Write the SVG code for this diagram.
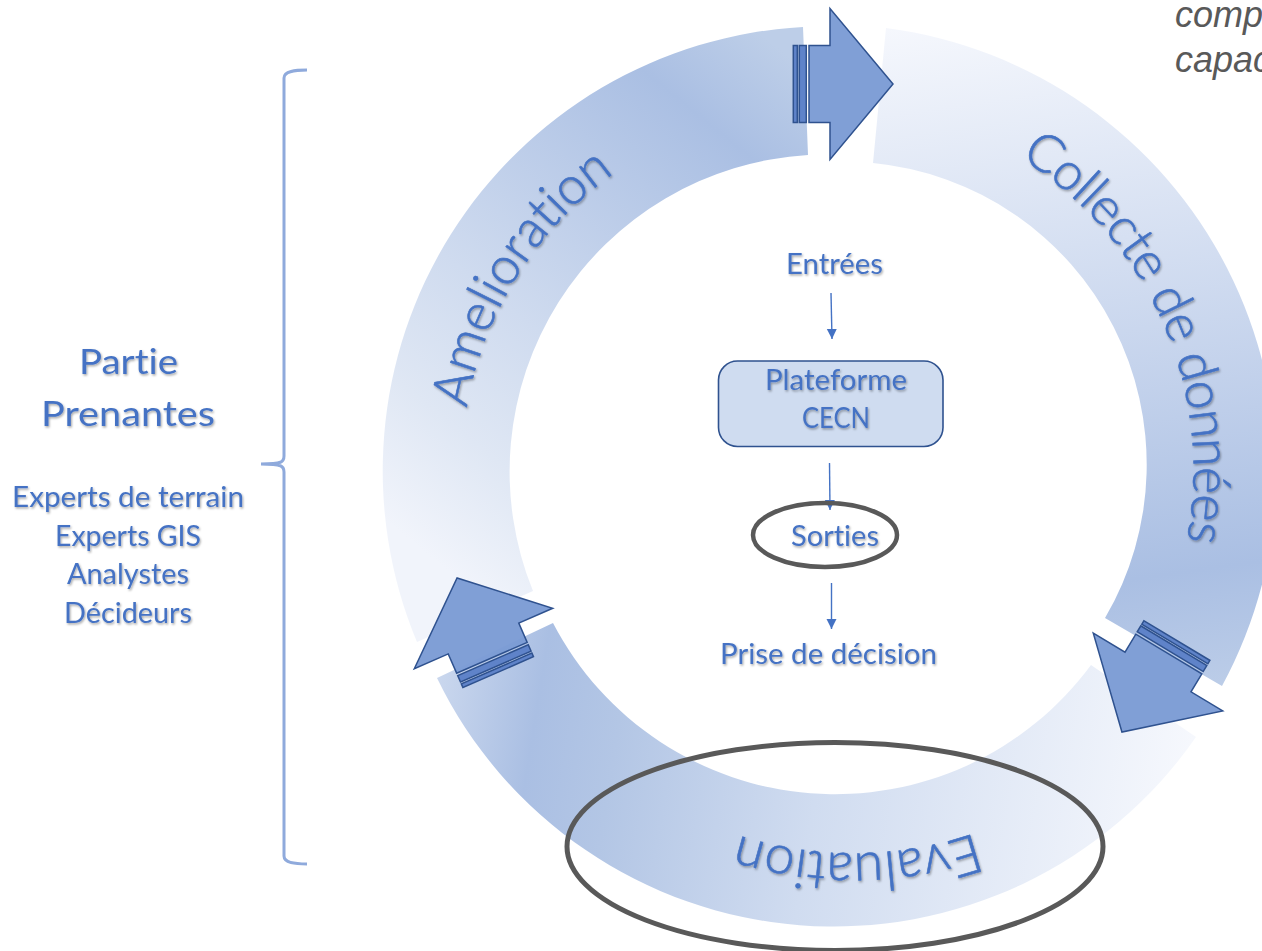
<svg xmlns="http://www.w3.org/2000/svg" xmlns:xlink="http://www.w3.org/1999/xlink" width="1262" height="951" viewBox="0 0 1262 951">
  <style>
    text { font-family: Lato, "Liberation Sans", sans-serif; fill: #4472c4; filter: url(#sh); font-variant-ligatures: none; }
    .mid { font-size: 28px; }
    .big { font-size: 35px; }
    .arc { font-size: 52px; font-weight: 300; stroke: #4472c4; stroke-width: .6; }
    .note { font-family: "Liberation Sans", Arial, sans-serif; font-style: italic; font-size: 36px; fill: #595959; filter: none; }
    .arrowBody { fill: #7b9bd4; fill-opacity: .96; stroke: #2f528f; stroke-width: 1.5; stroke-linejoin: miter; }
    .strip { fill: #5f83c9; stroke: #2f528f; stroke-width: 1.5; }
    .ring { fill: none; stroke: #595959; }
    .flow { fill: none; stroke: #4472c4; stroke-width: 1.4; marker-end: url(#tip); }
  </style>
  <defs>
    <filter id="sh" x="-10%" y="-20%" width="120%" height="150%">
      <feDropShadow dx="1" dy="1.5" stdDeviation="1.2" flood-color="#000" flood-opacity=".35"/>
    </filter>
    <marker id="tip" markerUnits="userSpaceOnUse" markerWidth="11" markerHeight="11" refX="10" refY="5" orient="auto">
      <path d="M0 0L10 5L0 10Z" fill="#4472c4"/>
    </marker>
    <linearGradient id="gA" gradientUnits="userSpaceOnUse" x1="400" y1="620" x2="830" y2="90">
      <stop offset=".1" stop-color="#f1f4fb"/>
      <stop offset=".27" stop-color="#dfe7f4"/>
      <stop offset=".456" stop-color="#cfdbef"/>
      <stop offset=".85" stop-color="#aabfe3"/>
      <stop offset="1" stop-color="#bdcee8"/>
    </linearGradient>
    <linearGradient id="gC" gradientUnits="userSpaceOnUse" x1="900" y1="20" x2="1000" y2="720">
      <stop offset="0" stop-color="#f6f8fd"/>
      <stop offset=".83" stop-color="#aabfe3"/>
      <stop offset="1" stop-color="#bccde8"/>
    </linearGradient>
    <linearGradient id="gE" gradientUnits="userSpaceOnUse" x1="1190" y1="760" x2="440" y2="640">
      <stop offset="0" stop-color="#f6f8fd"/>
      <stop offset=".48" stop-color="#d0dcf0"/>
      <stop offset=".75" stop-color="#b3c6e5"/>
      <stop offset=".86" stop-color="#aabfe3"/>
      <stop offset="1" stop-color="#cbd8ee"/>
    </linearGradient>
    <path id="pA" d="M466.8 408A365 365 0 0 1 826.5 105"/>
    <path id="pC" d="M1020 158A367 367 0 0 1 1171.4 595.5"/>
    <path id="pE" d="M975 833A376 376 0 0 1 690 816"/>
  </defs>

  <g id="note">
    <text class="note" x="1175" y="27">comp</text>
    <text class="note" x="1175" y="72">capac</text>
  </g>

  <g id="amelioration">
    <path d="M417 642A444.5 444.5 0 0 1 803 27L808 155A317 317 0 0 0 533 591Z" fill="url(#gA)"/>
    <text class="arc"><textPath href="#pA">Amelioration</textPath></text>
  </g>
  <g id="collecte">
    <path d="M886 28A448 448 0 0 1 1222 686L1105 618A303 303 0 0 0 873 163Z" fill="url(#gC)"/>
    <text class="arc" style="letter-spacing:-.8px"><textPath href="#pC">Collecte de données</textPath></text>
  </g>
  <g id="evaluation">
    <path d="M1196 737A441 441 0 0 1 437 678L553 623A318 318 0 0 0 1091 665Z" fill="url(#gE)"/>
    <text class="arc" style="font-size:54px"><textPath href="#pE">Evaluation</textPath></text>
  </g>

  <g id="arrow-top" transform="translate(830 84)">
    <polygon class="arrowBody" points="-21 -38.5 0 -38.5 0 -75.5 63 0 0 75.5 0 38.5 -21 38.5"/>
    <rect class="strip" x="-30.7" y="-38.5" width="7" height="77"/>
    <rect class="strip" x="-36.7" y="-38.5" width="4" height="77"/>
  </g>
  <g id="arrow-right" transform="translate(1158 672) rotate(121)">
    <polygon class="arrowBody" points="-21 -38.5 0 -38.5 0 -75.5 70 0 0 75.5 0 38.5 -21 38.5"/>
    <rect class="strip" x="-30.7" y="-38.5" width="7" height="77"/>
    <rect class="strip" x="-36.7" y="-38.5" width="4" height="77"/>
  </g>
  <g id="arrow-left" transform="translate(483.5 638.5) rotate(-113.6)">
    <polygon class="arrowBody" points="-21 -38.5 0 -38.5 0 -75.5 66 0 0 75.5 0 38.5 -21 38.5"/>
    <rect class="strip" x="-30.7" y="-38.5" width="7" height="77"/>
    <rect class="strip" x="-36.7" y="-38.5" width="4" height="77"/>
  </g>

  <g id="stakeholders">
    <path d="M307 70C295 70 284 71 284 78L284 456C284 462 282 464 261 464C282 464 284 466 284 472L284 856C284 863 295 864 307 864" fill="none" stroke="#8faadc" stroke-width="3"/>
    <text class="big" x="79" y="374" textLength="99" lengthAdjust="spacingAndGlyphs">Partie</text>
    <text class="big" x="41" y="426" textLength="174" lengthAdjust="spacingAndGlyphs">Prenantes</text>
    <text class="mid" x="12" y="507" textLength="232" lengthAdjust="spacingAndGlyphs">Experts de terrain</text>
    <text class="mid" x="55" y="546" textLength="146" lengthAdjust="spacingAndGlyphs">Experts GIS</text>
    <text class="mid" x="67" y="584" textLength="122" lengthAdjust="spacingAndGlyphs">Analystes</text>
    <text class="mid" x="64" y="623" textLength="128" lengthAdjust="spacingAndGlyphs">Décideurs</text>
  </g>

  <g id="entrees"><text class="mid" x="786" y="274" textLength="97" lengthAdjust="spacingAndGlyphs">Entrées</text></g>
  <g id="plateforme">
    <rect x="718.5" y="361" width="224.5" height="85.5" rx="19" fill="#cfdcf0" stroke="#2f528f" stroke-width="1.6"/>
    <text class="mid" x="765" y="390" textLength="142" lengthAdjust="spacingAndGlyphs">Plateforme</text>
    <text class="mid" x="802" y="428" textLength="68" lengthAdjust="spacingAndGlyphs">CECN</text>
  </g>
  <g id="sorties">
    <text class="mid" x="791" y="546" textLength="88" lengthAdjust="spacingAndGlyphs">Sorties</text>
  </g>
  <g id="decision"><text class="mid" x="720" y="664" textLength="217" lengthAdjust="spacingAndGlyphs">Prise de décision</text></g>

  <g id="connectors">
    <path class="flow" d="M831 293L832 339"/>
    <path class="flow" d="M829.5 463L830 510"/>
    <path class="flow" d="M831.5 583L831.5 629"/>
  </g>

  <g id="highlights">
    <ellipse class="ring" cx="825" cy="535" rx="72" ry="32" stroke-width="4.5"/>
    <ellipse class="ring" cx="835" cy="846.5" rx="268" ry="104" stroke-width="5"/>
  </g>
</svg>
